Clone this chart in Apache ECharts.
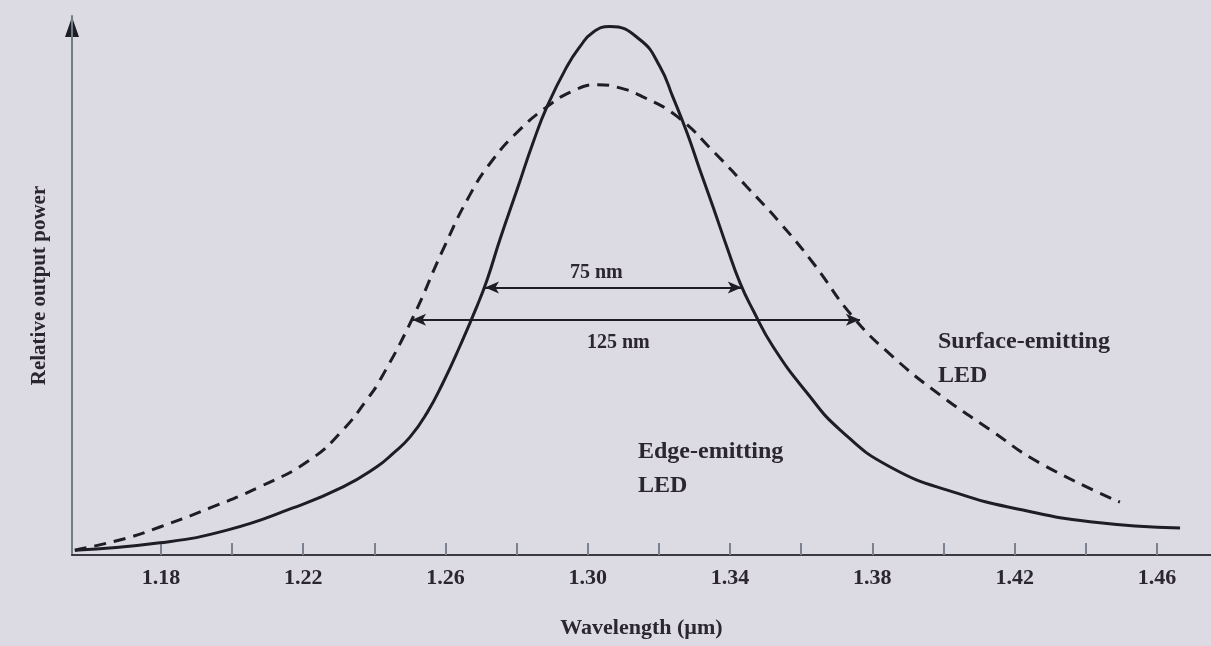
<!DOCTYPE html>
<html>
<head>
<meta charset="utf-8">
<script src="https://cdn.jsdelivr.net/npm/echarts@6/dist/echarts.min.js"></script>
<style>
html,body{margin:0;padding:0;background:#dcdae2;}
#chart{width:1211px;height:646px;}
</style>
</head>
<body>
<div id="chart"></div>
<script>
// Tick positions (µm)
const tickValues = [1.18,1.20,1.22,1.24,1.26,1.28,1.30,1.32,1.34,1.36,1.38,1.40,1.42,1.44,1.46];
const tickLabels = [1.18,1.22,1.26,1.30,1.34,1.38,1.42,1.46];

// Edge-emitting LED: [wavelength µm, relative power]
const edgeEmitting = [
  [1.1558,0.009],[1.1797,0.023],[1.1986,0.047],[1.2171,0.089],[1.2312,0.129],
  [1.2407,0.167],[1.2452,0.192],[1.2500,0.223],[1.2548,0.269],[1.2593,0.326],[1.2641,0.396],
  [1.2688,0.470],[1.2717,0.521],[1.2753,0.597],[1.2801,0.691],[1.2846,0.780],
  [1.2885,0.848],[1.2941,0.924],[1.2978,0.962],[1.3014,0.989],[1.3062,1.000],
  [1.3147,0.975],[1.3203,0.924],[1.3239,0.867],[1.3279,0.799],[1.3315,0.729],
  [1.3352,0.659],[1.3391,0.583],[1.3428,0.515],[1.3464,0.464],[1.3521,0.394],
  [1.3616,0.307],[1.3709,0.237],[1.3849,0.167],[1.4038,0.117],[1.4223,0.085],
  [1.4412,0.063],[1.4665,0.051]
];

// Surface-emitting LED: [wavelength µm, relative power]
const surfaceEmitting = [
  [1.1558,0.009],[1.1704,0.032],[1.1797,0.053],[1.1938,0.089],[1.2078,0.129],
  [1.2219,0.180],[1.2312,0.237],[1.2379,0.294],[1.2416,0.331],[1.2508,0.449],
  [1.2593,0.578],[1.2669,0.682],[1.2733,0.748],[1.2809,0.805],[1.2885,0.848],
  [1.2955,0.877],[1.3026,0.890],[1.3090,0.884],[1.3155,0.867],[1.3251,0.830],
  [1.3357,0.761],[1.3447,0.697],[1.3540,0.629],[1.3633,0.553],[1.3745,0.451],
  [1.3858,0.375],[1.3990,0.303],[1.4131,0.237],[1.4271,0.174],[1.4496,0.100]
];

// Full width at half maximum markers: [start µm, end µm, level]
const fwhmEdge = [1.2711, 1.3433, 0.506];
const fwhmSurface = [1.2506, 1.3765, 0.445];

const FONT = '"Liberation Serif", "DejaVu Serif", serif';
const TXT = '#2b2631';

const chart = echarts.init(document.getElementById('chart'));
chart.setOption({
  backgroundColor: '#dcdae2',
  animation: false,
  grid: {left: 72, right: 0, top: 16, bottom: 91},
  xAxis: {
    type: 'value', min: 1.155, max: 1.4752,
    name: 'Wavelength (µm)', nameLocation: 'middle', nameGap: 62,
    nameTextStyle: {fontFamily: FONT, fontWeight: 'bold', fontSize: 22, color: TXT},
    axisLine: {show: true, onZero: false, lineStyle: {color: '#3a3a42', width: 2}},
    axisTick: {show: true, inside: true, length: 12, customValues: tickValues,
      lineStyle: {color: '#7d8290', width: 2}},
    axisLabel: {customValues: tickLabels, margin: 12,
      formatter: v => v.toFixed(2),
      fontFamily: FONT, fontWeight: 'bold', fontSize: 22, color: TXT},
    splitLine: {show: false}
  },
  yAxis: {
    type: 'value', min: 0, max: 1.02,
    name: 'Relative output power', nameLocation: 'middle', nameGap: 22,
    nameTextStyle: {fontFamily: FONT, fontWeight: 'bold', fontSize: 21, color: TXT},
    axisLine: {show: true, lineStyle: {color: '#737b86', width: 2}},
    axisTick: {show: false},
    axisLabel: {show: false},
    splitLine: {show: false}
  },
  series: [
    {
      name: 'Edge-emitting LED', type: 'line', data: edgeEmitting,
      smooth: 0.5, showSymbol: false, symbol: 'none',
      lineStyle: {color: '#1e1c26', width: 3},
      markLine: {
        silent: true, symbol: ['arrow','arrow'], symbolSize: [9, 14],
        lineStyle: {color: '#1e1c26', width: 2, type: 'solid'},
        label: {show: false},
        data: [
          [{coord: [fwhmEdge[0], fwhmEdge[2]]}, {coord: [fwhmEdge[1], fwhmEdge[2]]}],
          [{coord: [fwhmSurface[0], fwhmSurface[2]]}, {coord: [fwhmSurface[1], fwhmSurface[2]]}]
        ]
      }
    },
    {
      name: 'Surface-emitting LED', type: 'line', data: surfaceEmitting,
      smooth: 0.5, showSymbol: false, symbol: 'none',
      lineStyle: {color: '#1e1c26', width: 3, type: [12, 8]}
    }
  ],
  graphic: [
    {type: 'polygon', shape: {points: [[72, 17], [65, 37], [79, 37]]}, style: {fill: '#1e1c26'}},
    {type: 'text', left: 570, top: 263, style: {text: '75 nm', font: 'bold 20px ' + FONT, fill: TXT}},
    {type: 'text', left: 587, top: 333, style: {text: '125 nm', font: 'bold 20px ' + FONT, fill: TXT}},
    {type: 'text', left: 938, top: 325, style: {text: 'Surface-emitting\nLED', font: 'bold 24px ' + FONT, fill: TXT, lineHeight: 34}},
    {type: 'text', left: 638, top: 435, style: {text: 'Edge-emitting\nLED', font: 'bold 24px ' + FONT, fill: TXT, lineHeight: 34}}
  ]
});
</script>
</body>
</html>
